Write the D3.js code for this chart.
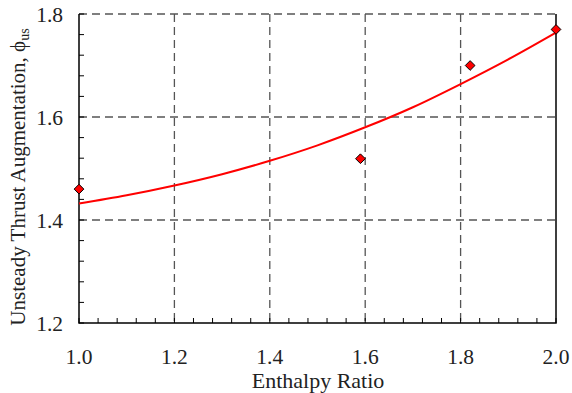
<!DOCTYPE html>
<html>
<head>
<meta charset="utf-8">
<script src="https://cdn.jsdelivr.net/npm/d3@7"></script>
<style>
body{margin:0;background:#fff;}
text{font-family:"Liberation Serif","Times New Roman",serif;fill:#222;}
</style>
</head>
<body>
<svg id="chart" width="572" height="393"></svg>
<script>
// measured points
var ratio = [1.0, 1.59, 1.82, 2.0];
var phi = [1.46, 1.519, 1.70, 1.77];
// fit curve
var fitX = [1.0, 1.1, 1.2, 1.3, 1.4, 1.5, 1.6, 1.7, 1.8, 1.9, 2.0];
var fitY = [1.432, 1.448, 1.467, 1.489, 1.515, 1.545, 1.580, 1.619, 1.664, 1.712, 1.764];
var xTicks = [1.0, 1.2, 1.4, 1.6, 1.8, 2.0];
var yTicks = [1.2, 1.4, 1.6, 1.8];

var pLeft = 79, pRight = 556, pTop = 14, pBottom = 323;
var svg = d3.select("#chart");
var x = d3.scaleLinear().domain([1.0, 2.0]).range([pLeft, pRight]);
var y = d3.scaleLinear().domain([1.2, 1.8]).range([pBottom, pTop]);

// grid
var grid = svg.append("g").attr("stroke", "#555").attr("stroke-width", 1.3).attr("stroke-dasharray", "8,5");
grid.selectAll(".gx").data(xTicks.slice(1, -1)).enter().append("line")
	.attr("x1", d => x(d)).attr("x2", d => x(d)).attr("y1", pTop).attr("y2", pBottom);
grid.selectAll(".gy").data(yTicks.slice(1)).enter().append("line")
	.attr("x1", pLeft).attr("x2", pRight).attr("y1", d => y(d)).attr("y2", d => y(d));

// minor ticks, pointing inward
var minorX = d3.range(1.0, 2.0001, 0.04);
var minorY = d3.range(1.2, 1.8001, 0.04);
svg.append("g").selectAll("line").data(minorX).enter().append("line")
	.attr("x1", d => x(d)).attr("x2", d => x(d)).attr("y1", pBottom).attr("y2", pBottom - 5)
	.attr("stroke", "#000");
svg.append("g").selectAll("line").data(minorY).enter().append("line")
	.attr("x1", pLeft).attr("x2", pLeft + 5).attr("y1", d => y(d)).attr("y2", d => y(d))
	.attr("stroke", "#000");

// axes lines (left, bottom, right solid)
svg.append("path").attr("d", "M" + pLeft + "," + pTop + "V" + pBottom + "H" + pRight + "V" + pTop)
	.attr("fill", "none").attr("stroke", "#000").attr("stroke-width", 1.5);

// tick labels
svg.append("g").selectAll("text").data(xTicks).enter().append("text")
	.attr("x", d => x(d)).attr("y", 364).attr("text-anchor", "middle")
	.attr("font-size", 21.5).text(d => d.toFixed(1));
svg.append("g").selectAll("text").data(yTicks).enter().append("text")
	.attr("x", 63).attr("y", d => y(d) + 8).attr("text-anchor", "end")
	.attr("font-size", 21.5).text(d => d.toFixed(1));

// axis titles
svg.append("text").attr("x", 318).attr("y", 388).attr("text-anchor", "middle")
	.attr("font-size", 22).text("Enthalpy Ratio");
var yl = svg.append("text").attr("transform", "translate(25,177) rotate(-90)")
	.attr("text-anchor", "middle").attr("font-size", 21);
yl.append("tspan").text("Unsteady Thrust Augmentation, \u03d5");
yl.append("tspan").attr("font-size", 14).attr("dy", 4).text("us");

// fit curve
var line = d3.line().curve(d3.curveMonotoneX).x(d => x(d[0])).y(d => y(d[1]));
svg.append("path").datum(d3.zip(fitX, fitY)).attr("d", line)
	.attr("fill", "none").attr("stroke", "#f00").attr("stroke-width", 2);

// markers
svg.append("g").selectAll("path").data(d3.zip(ratio, phi)).enter().append("path")
	.attr("d", d3.symbol().type(d3.symbolDiamond2).size(60))
	.attr("transform", d => "translate(" + x(d[0]) + "," + y(d[1]) + ")")
	.attr("fill", "#f00").attr("stroke", "#000").attr("stroke-width", 1);
</script>
</body>
</html>
